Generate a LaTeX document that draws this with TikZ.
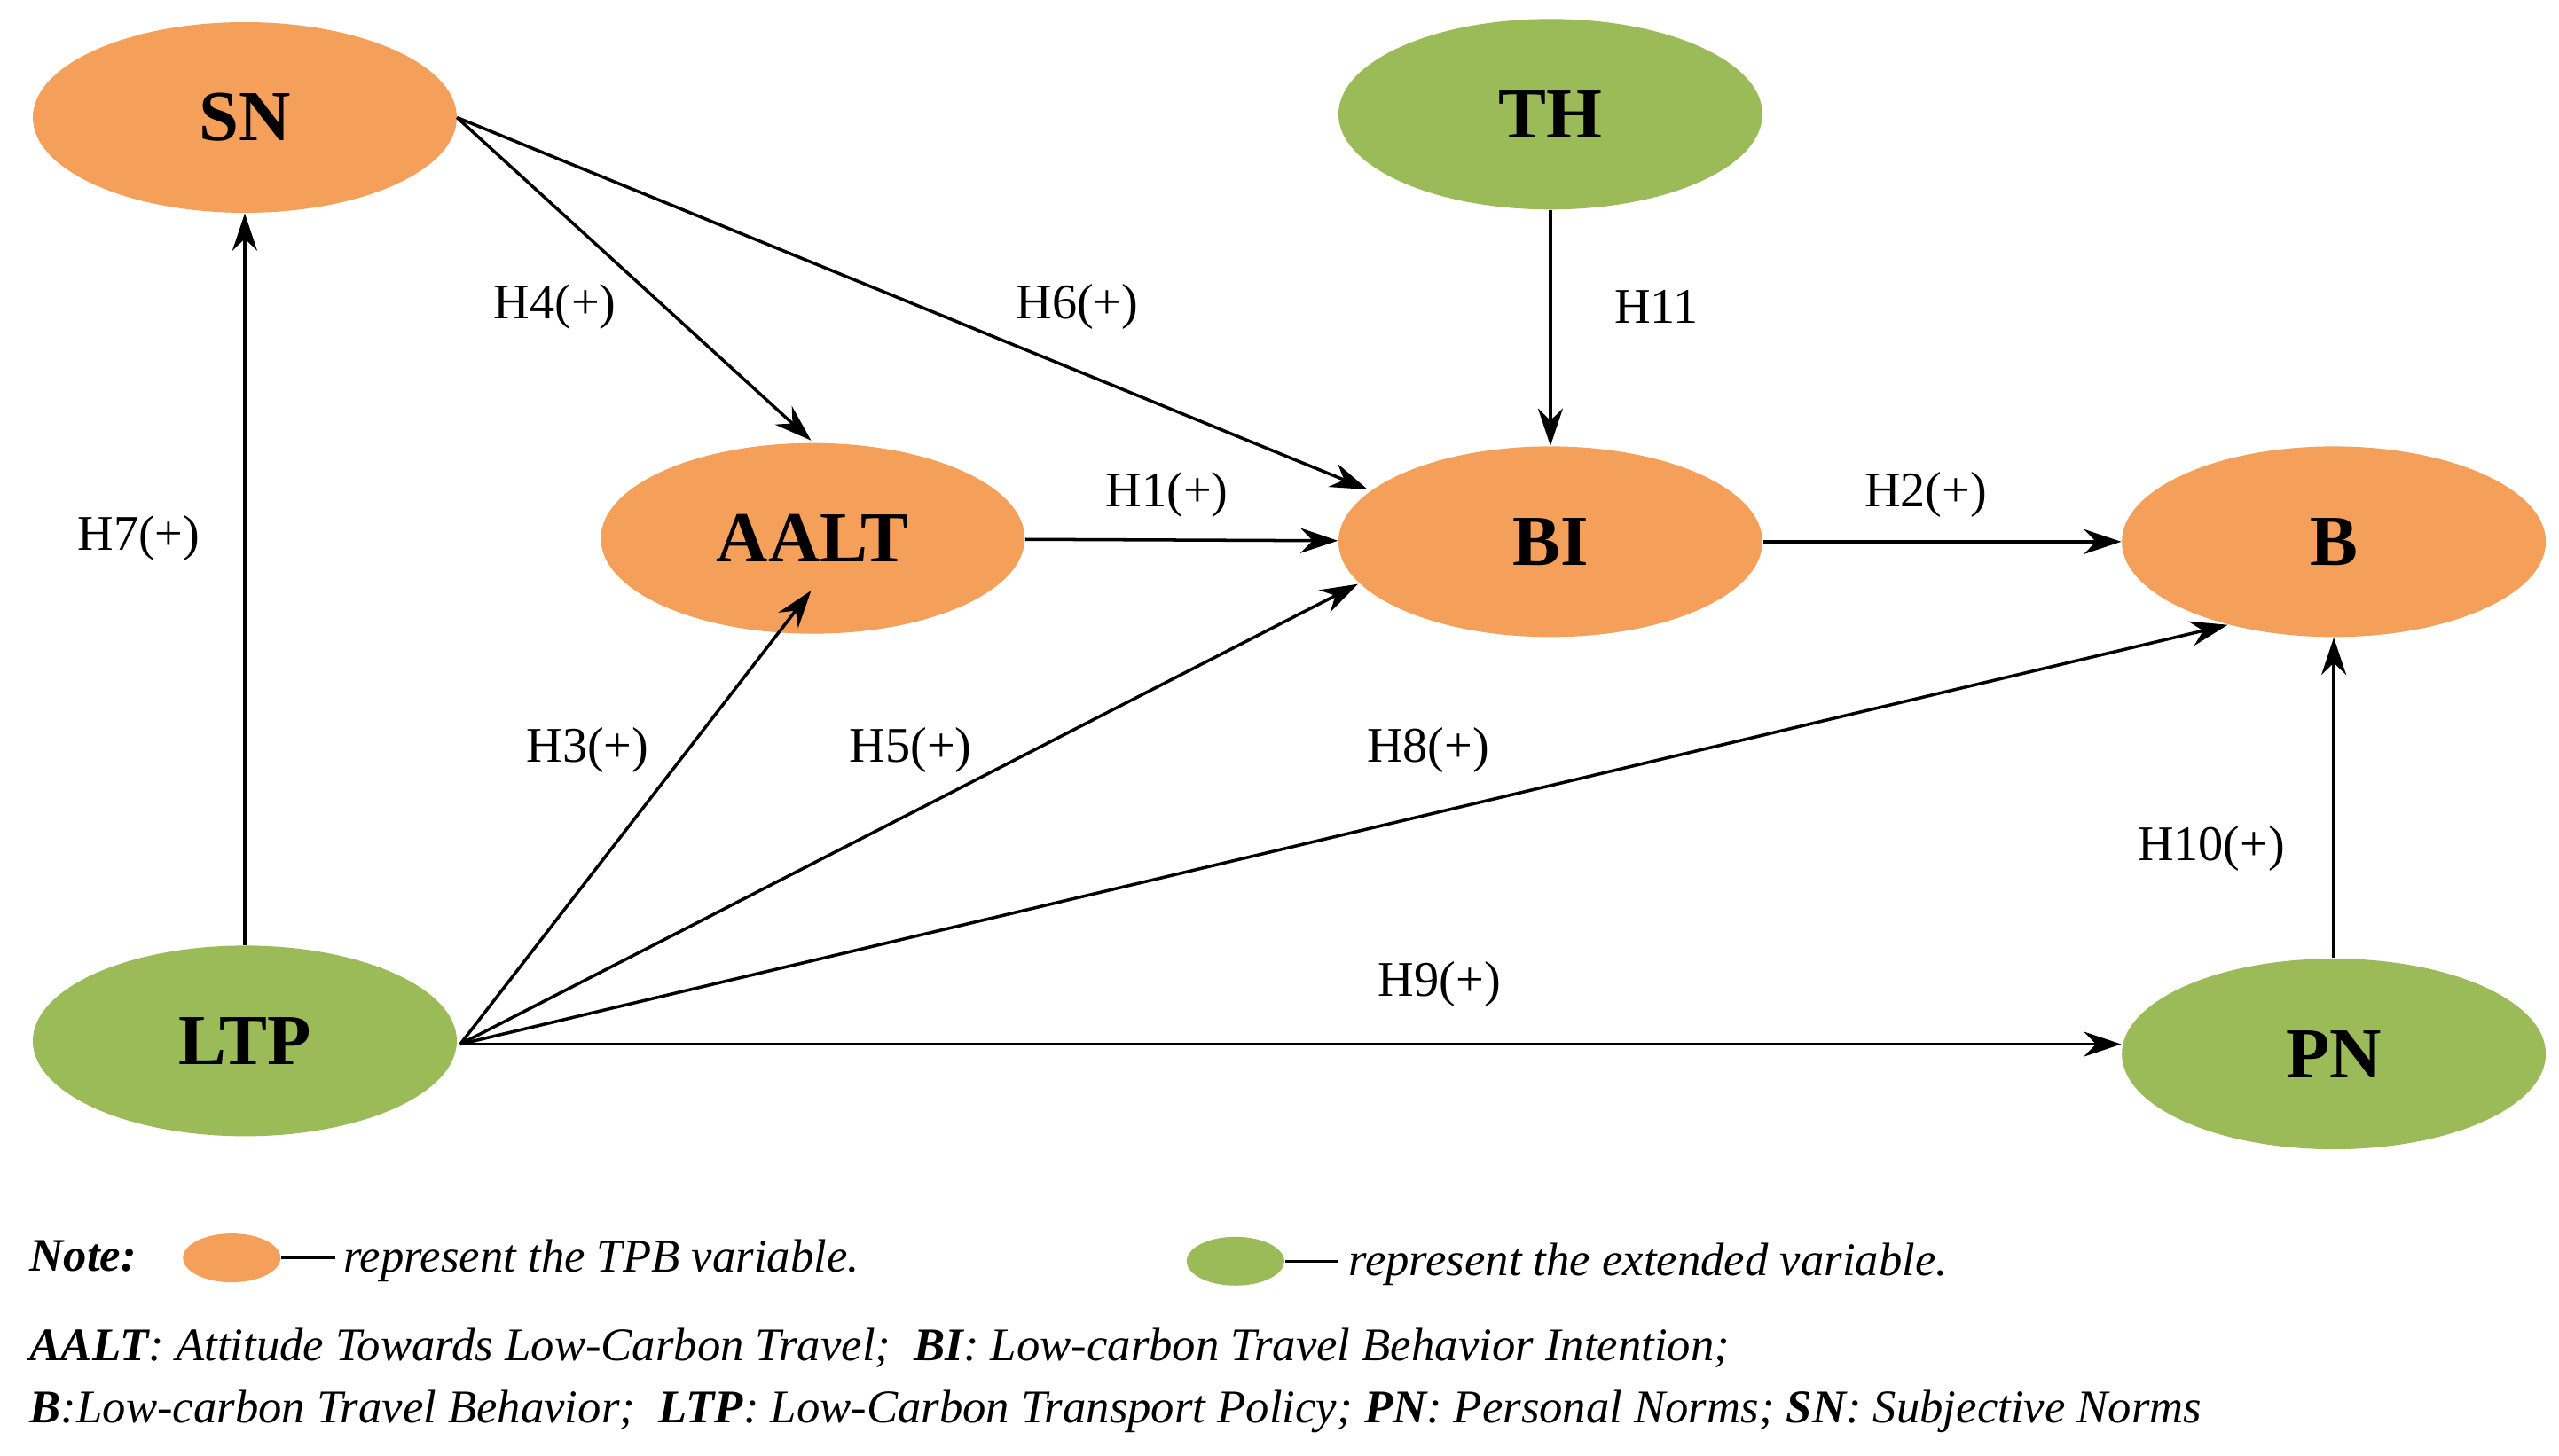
\documentclass[tikz,border=0pt]{standalone}
\usepackage{fontspec}
\setmainfont{Liberation Serif}
\usetikzlibrary{arrows.meta,shapes.geometric}
\definecolor{tpb}{HTML}{F4A05A}
\definecolor{ext}{HTML}{9BBB59}
\begin{document}
\begin{tikzpicture}[x=0.0184cm,y=-0.0184cm,
  var/.style={ellipse,minimum width=260\pgflinewidth*0+4.78cm,minimum height=2.15cm,inner sep=0pt,font=\fontsize{23}{26}\selectfont\bfseries},
  tpbv/.style={var,fill=tpb},
  extv/.style={var,fill=ext},
  arr/.style={-{Stealth[length=12pt,width=8pt]},line width=1pt},
  lab/.style={font=\fontsize{16}{18}\selectfont},
  note/.style={font=\fontsize{15}{17}\selectfont\itshape,anchor=west,inner sep=0pt}]
\useasboundingbox (0,0) rectangle (1568,892);
\node[tpbv] (SN) at (150,72) {SN};
\node[extv] (TH) at (950,70) {TH};
\node[tpbv] (AALT) at (498,330) {AALT};
\node[tpbv] (BI) at (950,332) {BI};
\node[tpbv] (B) at (1430,332) {B};
\node[extv] (LTP) at (150,638) {LTP};
\node[extv] (PN) at (1430,646) {PN};
\coordinate (snr) at (280,72);
\coordinate (ltpr) at (282,640);
\coordinate (aaltt) at (497,270);
\coordinate (aaltb) at (497,362);
\coordinate (bitl) at (838,300);
\coordinate (bibl) at (832,358);
\coordinate (bbl) at (1365,383);
\draw[arr] (snr) -- (aaltt);
\draw[arr] (snr) -- (bitl);
\draw[arr] (TH) -- (BI);
\draw[arr] (AALT) -- (BI);
\draw[arr] (BI) -- (B);
\draw[arr] (LTP) -- (SN);
\draw[arr] (ltpr) -- (aaltb);
\draw[arr] (ltpr) -- (bibl);
\draw[arr] (ltpr) -- (bbl);
\draw[arr] (ltpr) -- (PN.west|-ltpr);
\draw[arr] (PN) -- (B);
\node[lab] (l4) at (340,188) {H4(+)};
\node[lab] (l6) at (660,188) {H6(+)};
\node[lab] (l11) at (1015,188) {H11};
\node[lab] (l1) at (715,303) {H1(+)};
\node[lab] (l2) at (1180,303) {H2(+)};
\node[lab] (l7) at (85,330) {H7(+)};
\node[lab] (l3) at (360,460) {H3(+)};
\node[lab] (l5) at (558,460) {H5(+)};
\node[lab] (l8) at (875,460) {H8(+)};
\node[lab] (l9) at (882,603) {H9(+)};
\node[lab] (l10) at (1355,520) {H10(+)};
\node[note,font=\fontsize{15}{17}\selectfont\bfseries\itshape] (nt) at (18,770) {Note:};
\node[ellipse,fill=tpb,minimum width=1.1cm,minimum height=0.55cm,inner sep=0pt] (e1) at (142,771) {};
\draw[line width=0.8pt] (e1.east) -- ++(33,0) coordinate (d1);
\node[note] (t1) at (210,773) {represent the TPB variable.};
\node[ellipse,fill=ext,minimum width=1.1cm,minimum height=0.55cm,inner sep=0pt] (e2) at (757,773) {};
\draw[line width=0.8pt] (e2.east) -- ++(33,0) coordinate (d2);
\node[note] (t2) at (826,775) {represent the extended variable.};
\node[note] (n2) at (18,826) {\textbf{AALT}: Attitude Towards Low-Carbon Travel;\ \ \textbf{BI}: Low-carbon Travel Behavior Intention;};
\node[note] (n3) at (18,865) {\textbf{B}:Low-carbon Travel Behavior;\ \ \textbf{LTP}: Low-Carbon Transport Policy; \textbf{PN}: Personal Norms; \textbf{SN}: Subjective Norms};
\end{tikzpicture}
\end{document}
